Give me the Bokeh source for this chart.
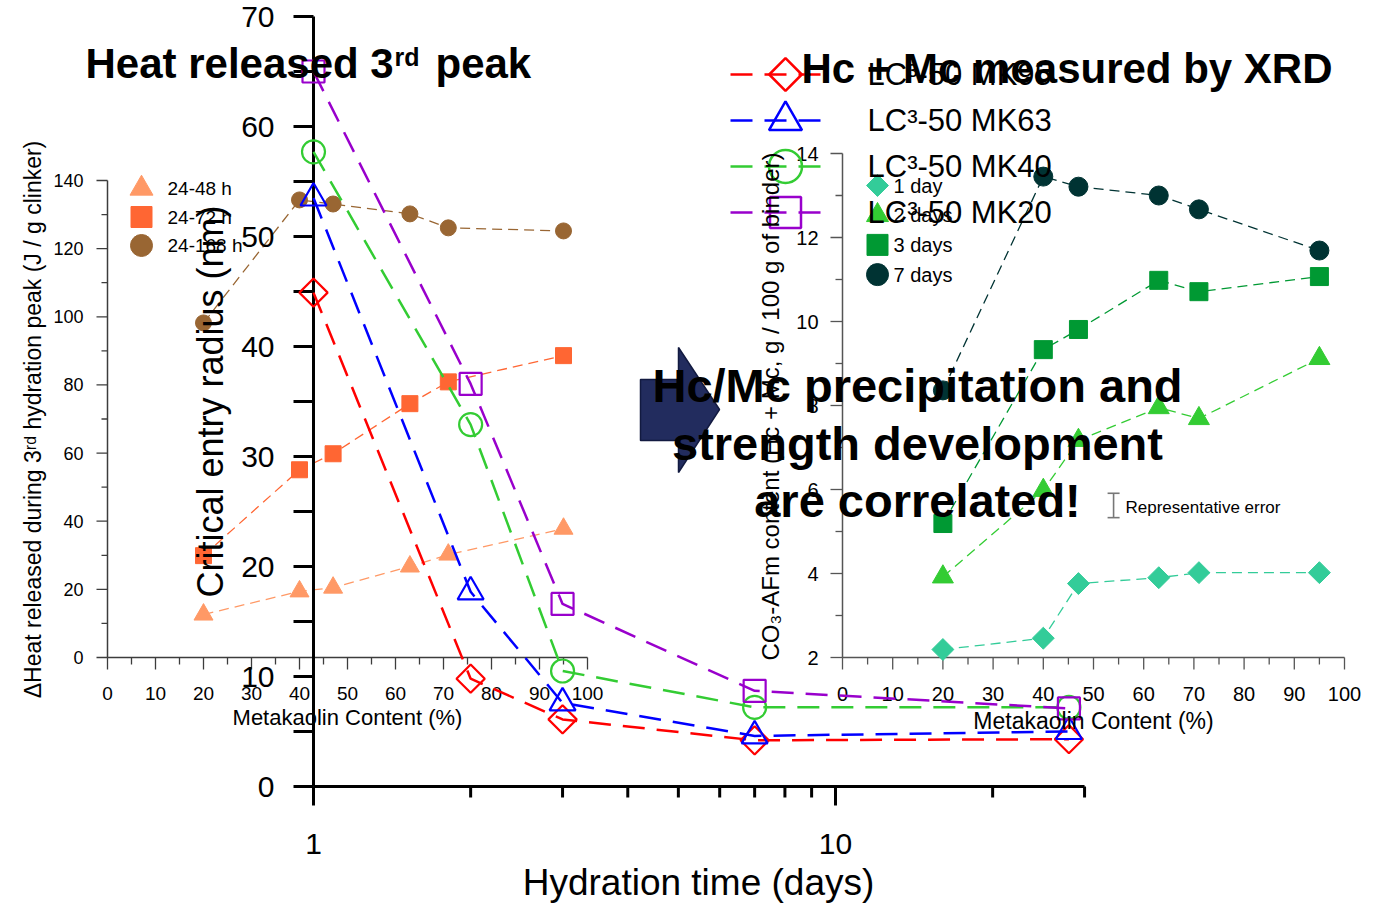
import numpy as np
from bokeh.plotting import figure
from bokeh.models import Range1d, LogScale
from bokeh.core.properties import value
from bokeh.embed import file_html
from bokeh.resources import INLINE

# ---------------- data ----------------
# Left inset: heat released during 3rd hydration peak vs metakaolin content
mk_content = [20, 40, 47, 63, 71, 95]
heat_labels = ["24-48 h", "24-72 h", "24-168 h"]
heat_48 = [12.6, 19.4, 20.5, 26.7, 30.2, 37.8]
heat_72 = [29.9, 55.1, 59.8, 74.5, 80.9, 88.6]
heat_168 = [98.2, 134.3, 133.1, 130.2, 126.1, 125.2]
heat_yticks = [0, 20, 40, 60, 80, 100, 120, 140]
heat_xticks = [0, 10, 20, 30, 40, 50, 60, 70, 80, 90, 100]

# Main plot: critical entry radius vs hydration time
days = [1, 2, 3, 7, 28]
radius_labels = ["LC\u00b3-50 MK95", "LC\u00b3-50 MK63", "LC\u00b3-50 MK40", "LC\u00b3-50 MK20"]
radius_mk95 = [44.9, 9.8, 6.1, 4.2, 4.3]
radius_mk63 = [53.5, 17.7, 7.6, 4.6, 5.0]
radius_mk40 = [57.7, 32.9, 10.5, 7.2, 7.2]
radius_mk20 = [65.0, 36.6, 16.6, 8.7, 7.1]
radius_yticks = [0, 10, 20, 30, 40, 50, 60, 70]
radius_xticks = [1, 10]

# Right inset: CO3-AFm content vs metakaolin content
afm_labels = ["1 day", "2 days", "3 days", "7 days"]
afm_1d = [2.19, 2.46, 3.76, 3.90, 4.02, 4.02]
afm_2d = [3.92, 5.98, 7.17, 7.95, 7.69, 9.12]
afm_3d = [5.19, 9.33, 9.81, 10.98, 10.71, 11.07]
afm_7d = [8.36, 13.45, 13.21, 13.00, 12.67, 11.69]
afm_yticks = [2, 4, 6, 8, 10, 12, 14]
afm_xticks = [0, 10, 20, 30, 40, 50, 60, 70, 80, 90, 100]
err_x, err_y, err_half = 54, 5.62, 0.29

# ---------------- layout constants (picture pixels) ----------------
W, H = 1378, 903
PX0, PY0 = 0, 0
PX1, PY1 = PX0 + W, PY0 + H

BIG_X0, BIG_DEC = 313, 522.0
BIG_Y0, BIG_PPU = 786, 11.0
HEAT_X0, HEAT_XPPU = 107, 4.8
HEAT_Y0, HEAT_YPPU = 657, 477.0 / 140.0
AFM_X0, AFM_XPPU = 842, 5.02
AFM_Y0, AFM_YPPU = 657, 42.0


def xr(p0, v0, ppu):
    return Range1d(v0 + (PX0 - p0) / ppu, v0 + (PX1 - p0) / ppu)


def yr(p0, v0, ppu):
    return Range1d(v0 + (p0 - PY1) / ppu, v0 + (p0 - PY0) / ppu)


FONT = "Liberation Sans"

p = figure(width=W, height=H, output_backend="svg", toolbar_location=None,
           x_range=Range1d(PX0, PX1), y_range=Range1d(PY1, PY0),
           x_axis_location=None, y_axis_location=None, min_border=0)
p.outline_line_color = None
p.grid.visible = False
p.background_fill_color = "white"
p.border_fill_color = "white"

p.extra_x_ranges = {
    "big": Range1d(10 ** ((PX0 - BIG_X0) / BIG_DEC), 10 ** ((PX1 - BIG_X0) / BIG_DEC)),
    "heat": xr(HEAT_X0, 0, HEAT_XPPU),
    "afm": xr(AFM_X0, 0, AFM_XPPU),
}
p.extra_y_ranges = {
    "big": yr(BIG_Y0, 0, BIG_PPU),
    "heat": yr(HEAT_Y0, 0, HEAT_YPPU),
    "afm": yr(AFM_Y0, 2, AFM_YPPU),
}
p.extra_x_scales = {"big": LogScale()}


def txt(x, y, s, size, rn="default", align="left", bold=False, angle=0.0, color="black"):
    xs = x if isinstance(x, list) else [x]
    ys = y if isinstance(y, list) else [y]
    ss = s if isinstance(s, list) else [s]
    p.text(x=xs, y=ys, text=ss, x_range_name=rn, y_range_name=rn,
           text_font=value(FONT), text_font_size=value(f"{size}px"),
           text_font_style="bold" if bold else "normal",
           text_align=align, text_baseline="middle", angle=angle, text_color=color)


# ---------------- arrow ----------------
p.patch(x=[640, 678, 678, 719, 678, 678, 640], y=[379, 379, 347, 409, 472, 440, 440],
        fill_color="#222C5E", line_color="#121A40", line_width=1.5)

# ---------------- left inset axes ----------------
GR1 = "#3c3c3c"
p.segment(x0=[0], y0=[0], x1=[0], y1=[140], x_range_name="heat", y_range_name="heat",
          line_color=GR1, line_width=1.5)
p.segment(x0=[0], y0=[0], x1=[100], y1=[0], x_range_name="heat", y_range_name="heat",
          line_color=GR1, line_width=1.5)
hy = list(range(0, 141, 10))
p.segment(x0=[0] * len(hy), y0=hy,
          x1=[-(11 if v % 20 == 0 else 6) / HEAT_XPPU for v in hy], y1=hy,
          x_range_name="heat", y_range_name="heat", line_color=GR1, line_width=1.3)
hx = list(range(0, 101, 5))
p.segment(x0=hx, y0=[0] * len(hx), x1=hx,
          y1=[-(12 if v % 10 == 0 else 7) / HEAT_YPPU for v in hx],
          x_range_name="heat", y_range_name="heat", line_color=GR1, line_width=1.3)
txt([-24 / HEAT_XPPU] * len(heat_yticks), heat_yticks, [str(v) for v in heat_yticks], 18,
    rn="heat", align="right")
txt(heat_xticks, [-36 / HEAT_YPPU] * len(heat_xticks), [str(v) for v in heat_xticks], 19,
    rn="heat", align="center")

# ---------------- right inset axes ----------------
GR2 = "#555555"
p.segment(x0=[0], y0=[2], x1=[0], y1=[14], x_range_name="afm", y_range_name="afm",
          line_color=GR2, line_width=1.5)
p.segment(x0=[0], y0=[2], x1=[100], y1=[2], x_range_name="afm", y_range_name="afm",
          line_color=GR2, line_width=1.5)
ay = list(range(2, 15))
p.segment(x0=[0] * len(ay), y0=ay,
          x1=[-(12 if v % 2 == 0 else 7) / AFM_XPPU for v in ay], y1=ay,
          x_range_name="afm", y_range_name="afm", line_color=GR2, line_width=1.3)
ax = list(range(0, 101, 5))
p.segment(x0=ax, y0=[2] * len(ax), x1=ax,
          y1=[2 - (12 if v % 10 == 0 else 7) / AFM_YPPU for v in ax],
          x_range_name="afm", y_range_name="afm", line_color=GR2, line_width=1.3)
txt([-24 / AFM_XPPU] * len(afm_yticks), afm_yticks, [str(v) for v in afm_yticks], 20,
    rn="afm", align="right")
txt(afm_xticks, [2 - 36 / AFM_YPPU] * len(afm_xticks), [str(v) for v in afm_xticks], 20,
    rn="afm", align="center")

# error bar
ERR = "#777777"
cap = 6 / AFM_XPPU
p.segment(x0=[err_x, err_x - cap, err_x - cap], y0=[err_y - err_half, err_y - err_half, err_y + err_half],
          x1=[err_x, err_x + cap, err_x + cap], y1=[err_y + err_half, err_y - err_half, err_y + err_half],
          x_range_name="afm", y_range_name="afm", line_color=ERR, line_width=1.6)

# ---------------- left inset data ----------------
heat_series = [heat_48, heat_72, heat_168]
heat_colors = ["#FF9966", "#FF6633", "#996633"]
heat_markers = ["triangle", "square", "circle"]
heat_sizes = [19, 16, 16]
for vals, c, m, s in zip(heat_series, heat_colors, heat_markers, heat_sizes):
    p.line(mk_content, vals, x_range_name="heat", y_range_name="heat",
           line_color=c, line_width=1.3, line_dash="10 6")
    p.scatter(mk_content, vals, x_range_name="heat", y_range_name="heat",
              marker=m, size=s, fill_color=c, line_color=c)

# ---------------- right inset data ----------------
afm_series = [afm_1d, afm_2d, afm_3d, afm_7d]
afm_colors = ["#33CC99", "#33CC33", "#009933", "#003333"]
afm_markers = ["square", "triangle", "square", "circle"]
afm_angles = [np.pi / 4, 0, 0, 0]
afm_sizes = [15.5, 21, 18, 19]
for vals, c, m, a, s in zip(afm_series, afm_colors, afm_markers, afm_angles, afm_sizes):
    p.line(mk_content, vals, x_range_name="afm", y_range_name="afm",
           line_color=c, line_width=1.3, line_dash="10 6")
    p.scatter(mk_content, vals, x_range_name="afm", y_range_name="afm",
              marker=m, angle=a, size=s, fill_color=c, line_color=c)

# ---------------- main plot axes ----------------
p.segment(x0=[1], y0=[0], x1=[1], y1=[70], x_range_name="big", y_range_name="big",
          line_color="black", line_width=3)
p.segment(x0=[1], y0=[0], x1=[30], y1=[0], x_range_name="big", y_range_name="big",
          line_color="black", line_width=3)
by = list(range(0, 71, 5))
p.segment(x0=[1] * len(by), y0=by, x1=[10 ** (-20 / BIG_DEC)] * len(by), y1=by,
          x_range_name="big", y_range_name="big", line_color="black", line_width=3)
bx = [1, 2, 3, 4, 5, 6, 7, 8, 9, 10, 20, 30]
p.segment(x0=bx, y0=[0] * len(bx), x1=bx,
          y1=[-(19 if v in (1, 10) else 11) / BIG_PPU for v in bx],
          x_range_name="big", y_range_name="big", line_color="black", line_width=3)
txt([10 ** (-39 / BIG_DEC)] * len(radius_yticks), radius_yticks, [str(v) for v in radius_yticks],
    30, rn="big", align="right")
txt(radius_xticks, [-(843 - BIG_Y0) / BIG_PPU] * len(radius_xticks), [str(v) for v in radius_xticks],
    30, rn="big", align="center")

# ---------------- main plot data ----------------
radius_series = [radius_mk95, radius_mk63, radius_mk40, radius_mk20]
radius_colors = ["#FF0000", "#0000FF", "#33CC33", "#9900CC"]
radius_markers = ["square", "triangle", "circle", "square"]
radius_angles = [np.pi / 4, 0, 0, 0]
radius_sizes = [20, 26, 23, 22]
for vals, c, m, a, s in zip(radius_series, radius_colors, radius_markers, radius_angles, radius_sizes):
    p.line(days, vals, x_range_name="big", y_range_name="big",
           line_color=c, line_width=2.5, line_dash="22 12")
    p.scatter(days, vals, x_range_name="big", y_range_name="big",
              marker=m, angle=a, size=s, fill_color=None, line_color=c, line_width=2.2)

# ---------------- legends ----------------
# left inset legend
for i, (lab, c, m) in enumerate(zip(heat_labels, heat_colors, heat_markers)):
    yy = 188 + i * 28.5
    p.scatter([141], [yy], marker=m, size=[23, 21, 22][i], fill_color=c, line_color=c)
    txt(167, yy, lab, 19)

# right inset legend
for i, (lab, c, m, a) in enumerate(zip(afm_labels, afm_colors, afm_markers, afm_angles)):
    yy = 185 + i * 29.7
    p.scatter([877], [yy], marker=m, angle=a, size=[15.5, 22, 21, 22][i], fill_color=c, line_color=c)
    txt(893, yy, lab, 20)

# main legend
for i, (lab, c, m, a) in enumerate(zip(radius_labels, radius_colors, radius_markers, radius_angles)):
    yy = 74 + i * 46
    p.line([730, 828], [yy, yy], line_color=c, line_width=2.5, line_dash="22 12")
    p.scatter([785], [yy], marker=m, angle=a, size=[23, 33, 33, 31][i],
              fill_color=None, line_color=c, line_width=2.5)
    txt(867, yy, lab, 31)

# ---------------- axis titles ----------------
txt(32, 419, "\u0394Heat released during 3\u02b3\u1d48 hydration peak (J / g clinker)", 23,
    align="center", angle=np.pi / 2)
txt(347, 717, "Metakaolin Content (%)", 22, align="center")
txt(210, 401, "Critical entry radius (nm)", 36, align="center", angle=np.pi / 2)
txt(698, 882, "Hydration time (days)", 37, align="center")
txt(770, 406, "CO\u2083-AFm content (Hc + Mc, g / 100 g of binder)", 24, align="center",
    angle=np.pi / 2)
txt(1093, 720, "Metakaolin Content (%)", 23, align="center")
txt(1125, 507, "Representative error", 17)

# ---------------- titles / annotations ----------------
txt(85, 63, "Heat released 3", 42, bold=True)
txt(394, 56, "rd", 25, bold=True)
txt(435, 63, "peak", 42, bold=True)
txt(801, 68, "Hc + Mc measured by XRD", 42, bold=True)
txt(917, 385, "Hc/Mc precipitation and", 47, align="center", bold=True)
txt(917, 443, "strength development", 47, align="center", bold=True)
txt(917, 500, "are correlated!", 47, align="center", bold=True)

open("out.html", "w").write(file_html(p, INLINE))
